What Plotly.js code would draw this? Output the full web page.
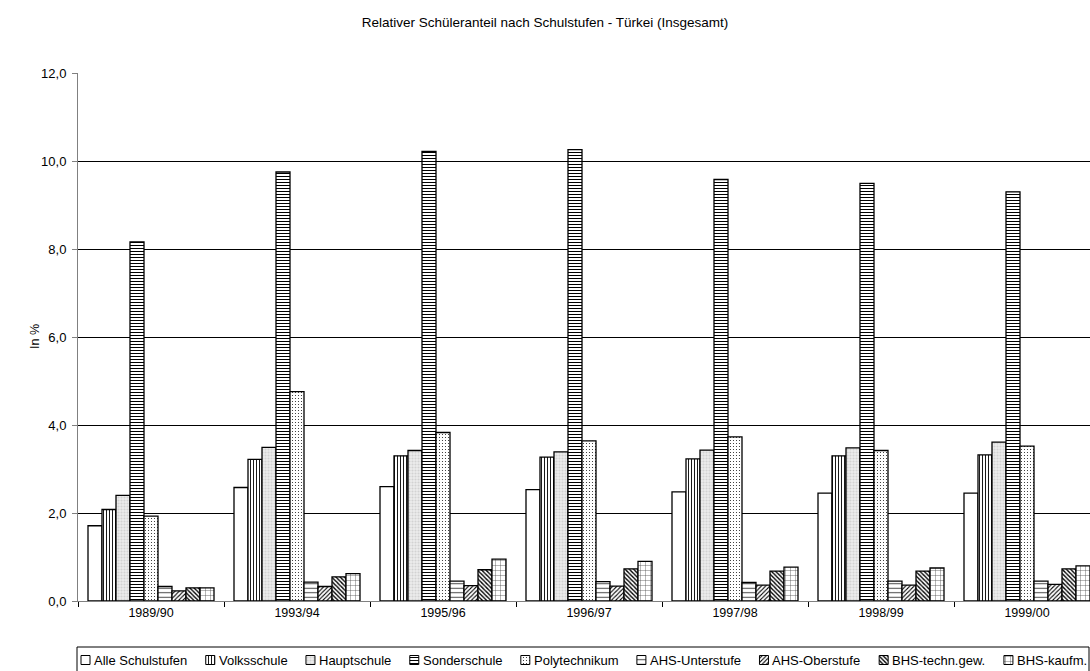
<!DOCTYPE html>
<html>
<head>
<meta charset="utf-8">
<script src="https://cdn.plot.ly/plotly-3.0.1.min.js"></script>
<style>
  html, body { margin: 0; padding: 0; background: #fff; overflow: hidden; }
  #chart { width: 1090px; height: 671px; }
</style>
</head>
<body>
<div id="chart"></div>
<script>
// School years on the category axis
const years = ['1989/90', '1993/94', '1995/96', '1996/97', '1997/98', '1998/99', '1999/00'];

// Share of Turkish pupils per school type, in percent
const alleSchulstufen = [1.71, 2.58, 2.60, 2.53, 2.48, 2.45, 2.45];
const volksschule     = [2.08, 3.22, 3.30, 3.27, 3.23, 3.30, 3.32];
const hauptschule     = [2.40, 3.49, 3.42, 3.39, 3.43, 3.48, 3.61];
const sonderschule    = [8.16, 9.75, 10.22, 10.26, 9.58, 9.49, 9.30];
const polytechnikum   = [1.93, 4.76, 3.83, 3.64, 3.73, 3.42, 3.52];
const ahsUnterstufe   = [0.33, 0.43, 0.45, 0.44, 0.42, 0.45, 0.45];
const ahsOberstufe    = [0.23, 0.33, 0.35, 0.34, 0.36, 0.36, 0.38];
const bhsTechnGew     = [0.30, 0.55, 0.71, 0.73, 0.68, 0.68, 0.73];
const bhsKaufm        = [0.30, 0.62, 0.95, 0.90, 0.77, 0.75, 0.80];

const seriesNames = ['Alle Schulstufen', 'Volksschule', 'Hauptschule', 'Sonderschule',
  'Polytechnikum', 'AHS-Unterstufe', 'AHS-Oberstufe', 'BHS-techn.gew.', 'BHS-kaufm.'];
const seriesValues = [alleSchulstufen, volksschule, hauptschule, sonderschule,
  polytechnikum, ahsUnterstufe, ahsOberstufe, bhsTechnGew, bhsKaufm];

// Monochrome fill styles, one per school type
const fills = [
  { color: '#ffffff', pattern: { shape: '' } },
  { color: '#ffffff', pattern: { shape: '|', fgcolor: '#000', bgcolor: '#fff', size: 3, solidity: 0.3 } },
  { color: '#ebebeb', pattern: { shape: '.', fgcolor: '#d2d2d2', bgcolor: '#ededed', size: 3, solidity: 0.4 } },
  { color: '#ffffff', pattern: { shape: '-', fgcolor: '#000', bgcolor: '#fff', size: 3, solidity: 0.35 } },
  { color: '#ffffff', pattern: { shape: '.', fgcolor: '#222', bgcolor: '#fff', size: 3, solidity: 0.12 } },
  { color: '#ffffff', pattern: { shape: '-', fgcolor: '#444', bgcolor: '#fff', size: 4.5, solidity: 0.22 } },
  { color: '#ffffff', pattern: { shape: '/', fgcolor: '#000', bgcolor: '#fff', size: 3, solidity: 0.35 } },
  { color: '#ffffff', pattern: { shape: '\\', fgcolor: '#000', bgcolor: '#fff', size: 3, solidity: 0.45 } },
  { color: '#ffffff', pattern: { shape: '+', fgcolor: '#444', bgcolor: '#fff', size: 5, solidity: 0.15 } }
];

const W = 1090, H = 671;
const M = { l: 78, r: 0, t: 73, b: 0 };
const plotW = W - M.l - M.r, plotH = H - M.t - M.b;
const axisBottomPx = 601;      // pixel row of the value axis zero line
const catPx = 146;             // width of one category slot
const FONT = 'Liberation Sans, Arial, sans-serif';
const barLine = { color: '#000', width: 1.3 };

const traces = seriesNames.map((name, i) => ({
  type: 'bar',
  name: name,
  x: years,
  y: seriesValues[i],
  xaxis: 'x', yaxis: 'y',
  showlegend: false,
  hoverinfo: 'x+y+name',
  marker: {
    color: fills[i].color,
    pattern: fills[i].pattern,
    line: barLine
  }
}));

// Custom legend row: measure label widths so items spread across the box
const cv = document.createElement('canvas').getContext('2d');
const legendFontSize = 13;
cv.font = legendFontSize + 'px "Liberation Sans"';
const sw = 9, swGap = 3;
const legLeft = 81, legRight = 1086;
const widths = seriesNames.map(n => cv.measureText(n).width);
const used = widths.reduce((s, w) => s + sw + swGap + w, 0);
const itemGap = (legRight - legLeft - used) / (seriesNames.length - 1);
const legendRowPx = 660;       // vertical centre of the legend row
const legBandTop = 644;        // top of the swatch subplot band

const annotations = [];
let cursor = legLeft;
seriesNames.forEach((name, i) => {
  const cx = cursor + sw / 2;
  traces.push({
    type: 'bar',
    x: [cx], y: [sw], base: [H - legendRowPx - sw / 2],
    width: [sw], offset: [-sw / 2],
    xaxis: 'x2', yaxis: 'y2',
    showlegend: false, hoverinfo: 'skip',
    marker: { color: fills[i].color, pattern: fills[i].pattern, line: { color: '#000', width: 1 } }
  });
  annotations.push({
    xref: 'paper', yref: 'paper',
    x: (cursor + sw + swGap - M.l) / plotW,
    y: (H - legendRowPx) / plotH,
    xanchor: 'left', yanchor: 'middle',
    text: name, showarrow: false, borderpad: 0,
    font: { family: FONT, size: legendFontSize, color: '#000' }
  });
  cursor += sw + swGap + widths[i] + itemGap;
});

// Value axis caption, rotated, left of the tick labels
const yDomain = [(H - axisBottomPx) / plotH, 1];
annotations.push({
  xref: 'paper', yref: 'paper',
  x: (35 - M.l) / plotW, y: (yDomain[0] + yDomain[1]) / 2,
  xanchor: 'center', yanchor: 'middle', textangle: -90,
  text: 'In %', showarrow: false, borderpad: 0,
  font: { family: FONT, size: 12.5, color: '#000' }
});

const layout = {
  width: W, height: H,
  margin: M,
  paper_bgcolor: '#fff', plot_bgcolor: '#fff',
  separators: ',.',
  font: { family: FONT, size: 12, color: '#000' },
  title: {
    text: 'Relativer Schüleranteil nach Schulstufen - Türkei (Insgesamt)',
    font: { family: FONT, size: 13.5, color: '#000' },
    x: 0.5, xref: 'container', xanchor: 'center',
    y: 1 - 22 / H, yref: 'container', yanchor: 'middle'
  },
  barmode: 'group',
  bargap: 20 / catPx,
  bargroupgap: 0,
  xaxis: {
    type: 'category',
    domain: [0, 1], anchor: 'y',
    range: [-0.5, -0.5 + plotW / catPx],
    tickson: 'boundaries',
    ticks: 'outside', ticklen: 5, tickcolor: '#000', tickwidth: 1,
    showline: true, linecolor: '#808080', linewidth: 1,
    showgrid: false, zeroline: false,
    tickfont: { family: FONT, size: 12.5, color: '#000' }
  },
  yaxis: {
    domain: yDomain, anchor: 'x',
    range: [0, 12], dtick: 2, tick0: 0,
    tickformat: '.1f',
    ticks: 'outside', ticklen: 5, tickcolor: '#808080', tickwidth: 1,
    ticklabelstandoff: 3,
    showline: true, linecolor: '#808080', linewidth: 1,
    showgrid: true, gridcolor: '#000', gridwidth: 1,
    zeroline: false,
    tickfont: { family: FONT, size: 13, color: '#000' }
  },
  xaxis2: {
    domain: [0, 1], anchor: 'y2', range: [M.l, W - M.r],
    visible: false, fixedrange: true
  },
  yaxis2: {
    domain: [0, (H - legBandTop) / plotH], anchor: 'x2', range: [0, H - legBandTop],
    visible: false, fixedrange: true
  },
  shapes: [{
    type: 'rect', xref: 'paper', yref: 'paper', layer: 'above',
    x0: (77 - M.l) / plotW, x1: (1089 - M.l) / plotW,
    y0: -0.05, y1: (H - 647) / plotH,
    line: { color: '#000', width: 1 }, fillcolor: 'rgba(0,0,0,0)'
  }],
  annotations: annotations
};

Plotly.newPlot('chart', traces, layout, { displayModeBar: false, staticPlot: true });
</script>
</body>
</html>
